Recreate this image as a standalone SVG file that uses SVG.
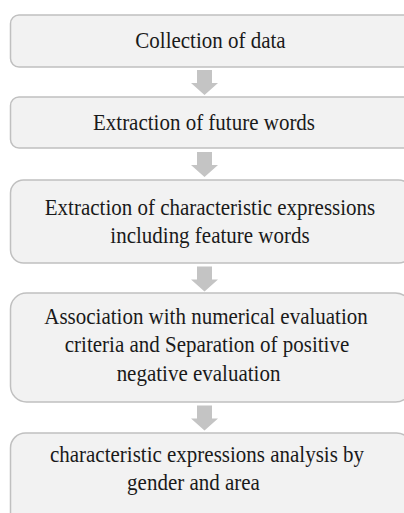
<svg xmlns="http://www.w3.org/2000/svg" width="404" height="513" viewBox="0 0 404 513">
<style>
.box{fill:#f2f2f2;stroke:#c0c0c0;stroke-width:1.5}
.arr{fill:#c4c4c4}
.t{font-family:'Liberation Serif','Times New Roman',Times,serif;font-size:23.5px;fill:#1a1a1a;text-anchor:middle}
</style>
<rect width="404" height="513" fill="#ffffff"/>
<g id="connectors">
<path class="arr" d="M197,70 H212 V83 H218 L204.5,95 L191,83 H197 Z"/>
<path class="arr" d="M197,152 H212 V165 H218 L204.5,177 L191,165 H197 Z"/>
<path class="arr" d="M197,266.5 H212 V279.5 H218 L204.5,291.5 L191,279.5 H197 Z"/>
<path class="arr" d="M197,405.5 H212 V418.5 H218 L204.5,430.5 L191,418.5 H197 Z"/>
</g>
<g id="n1">
<rect class="box" x="10.5" y="15" width="401" height="52" rx="8.5"/>
<text class="t" transform="translate(210.5,47.7) scale(0.894,1)">Collection of data</text>
</g>
<g id="n2">
<rect class="box" x="10.5" y="97" width="401" height="51" rx="8.5"/>
<text class="t" transform="translate(204,130) scale(0.894,1)">Extraction of future words</text>
</g>
<g id="n3">
<rect class="box" x="10.5" y="180" width="401" height="83" rx="13"/>
<text class="t" transform="translate(210,215) scale(0.894,1)">Extraction of characteristic expressions</text>
<text class="t" transform="translate(210,243.3) scale(0.894,1)">including feature words</text>
</g>
<g id="n4">
<rect class="box" x="10.5" y="293" width="401" height="109" rx="16"/>
<text class="t" transform="translate(206,323.5) scale(0.894,1)">Association with numerical evaluation</text>
<text class="t" transform="translate(207,352) scale(0.894,1)">criteria and Separation of positive</text>
<text class="t" transform="translate(198.5,380.5) scale(0.894,1)">negative evaluation</text>
</g>
<g id="n5">
<rect class="box" x="10.5" y="433" width="401" height="100" rx="15"/>
<text class="t" transform="translate(207,461.7) scale(0.894,1)">characteristic expressions  analysis by</text>
<text class="t" transform="translate(193.5,490) scale(0.894,1)">gender and area</text>
</g>
</svg>
